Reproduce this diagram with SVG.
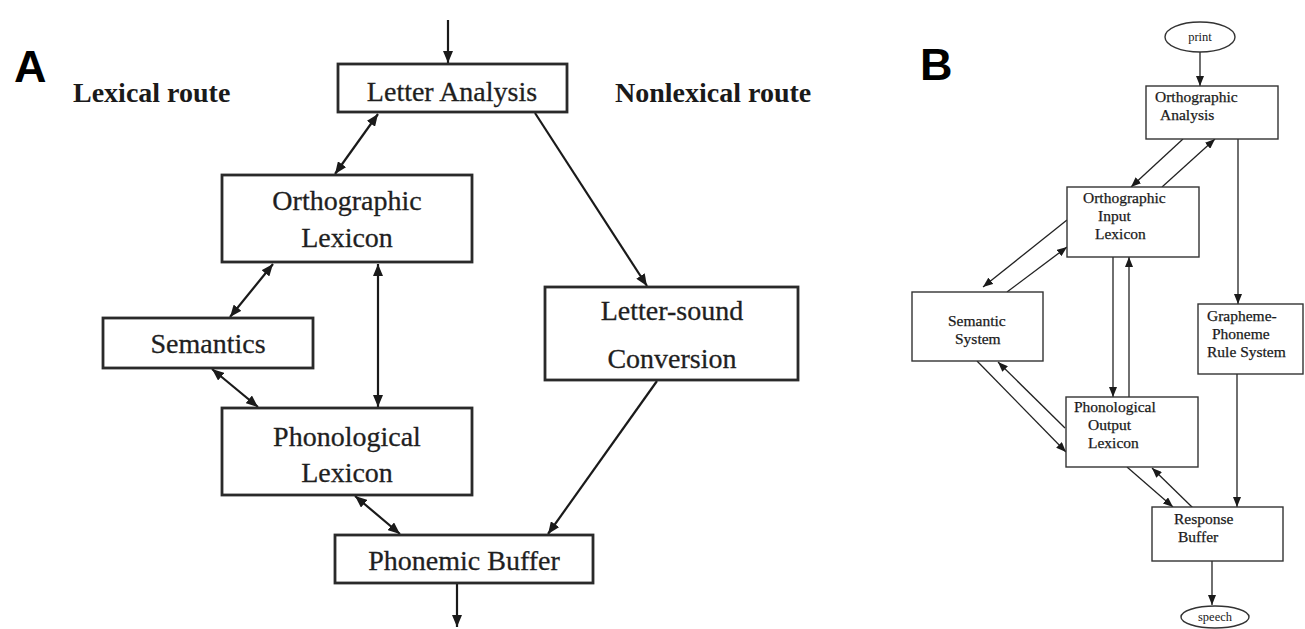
<svg xmlns="http://www.w3.org/2000/svg" width="1305" height="629" viewBox="0 0 1305 629">
  <style>
    .bg { fill: #ffffff; }
    .panel-letter { font-family: "Liberation Sans", Arial, sans-serif; font-weight: bold; font-size: 45px; fill: #000; }
    .route { font-family: "Liberation Serif", "Times New Roman", serif; font-weight: bold; font-size: 28px; fill: #1a1a1a; }
    .boxA { fill: #ffffff; stroke: #2a2a2a; stroke-width: 2.8; }
    .txtA { font-family: "Liberation Serif", "Times New Roman", serif; font-size: 28px; fill: #1f1f1f; text-anchor: middle; stroke: #1f1f1f; stroke-width: 0.3; }
    .lineA { stroke: #1a1a1a; stroke-width: 2.2; fill: none; }
    .boxB { fill: #ffffff; stroke: #333; stroke-width: 1.4; }
    .txtB { font-family: "Liberation Serif", "Times New Roman", serif; font-size: 15.5px; fill: #1a1a1a; stroke: #1a1a1a; stroke-width: 0.25; }
    .txtSmall { font-family: "Liberation Serif", "Times New Roman", serif; font-size: 12.5px; fill: #1a1a1a; text-anchor: middle; }
    .lineB { stroke: #222; stroke-width: 1.3; fill: none; }
  </style>
  <defs>
    <marker id="headA" viewBox="0 0 12 10" refX="12" refY="5" markerWidth="12" markerHeight="10" markerUnits="userSpaceOnUse" orient="auto-start-reverse">
      <path d="M0,0 L12,5 L0,10 z" fill="#1a1a1a"/>
    </marker>
    <marker id="headB" viewBox="0 0 10 8" refX="10" refY="4" markerWidth="10" markerHeight="8" markerUnits="userSpaceOnUse" orient="auto-start-reverse">
      <path d="M0,0 L10,4 L0,8 z" fill="#1a1a1a"/>
    </marker>
  </defs>

  <rect class="bg" x="0" y="0" width="1305" height="629"/>

  <!-- Panel A: dual-route model -->
  <text class="panel-letter" x="14" y="82">A</text>
  <text class="route" x="73" y="102">Lexical route</text>
  <text class="route" x="615" y="102">Nonlexical route</text>

  <g id="a-connectors">
    <path class="lineA" d="M448,20 L448,63" marker-end="url(#headA)"/>
    <path class="lineA" d="M378,114 L335,174" marker-start="url(#headA)" marker-end="url(#headA)"/>
    <path class="lineA" d="M535,113 L647,286" marker-end="url(#headA)"/>
    <path class="lineA" d="M273,264 L230,317" marker-start="url(#headA)" marker-end="url(#headA)"/>
    <path class="lineA" d="M378,264 L378,407" marker-start="url(#headA)" marker-end="url(#headA)"/>
    <path class="lineA" d="M212,369 L258,407" marker-start="url(#headA)" marker-end="url(#headA)"/>
    <path class="lineA" d="M355,496 L400,534" marker-start="url(#headA)" marker-end="url(#headA)"/>
    <path class="lineA" d="M657,381 L548,534" marker-end="url(#headA)"/>
    <path class="lineA" d="M457,584 L457,627" marker-end="url(#headA)"/>
  </g>

  <g id="a-letter-analysis">
    <rect class="boxA" x="338" y="64" width="229" height="48"/>
    <text class="txtA" x="452" y="101">Letter Analysis</text>
  </g>
  <g id="a-orthographic-lexicon">
    <rect class="boxA" x="222" y="175" width="250" height="87"/>
    <text class="txtA" x="347" y="210">Orthographic</text>
    <text class="txtA" x="347" y="247">Lexicon</text>
  </g>
  <g id="a-letter-sound">
    <rect class="boxA" x="545" y="287" width="253" height="93"/>
    <text class="txtA" x="672" y="320">Letter-sound</text>
    <text class="txtA" x="672" y="368">Conversion</text>
  </g>
  <g id="a-semantics">
    <rect class="boxA" x="103" y="318" width="210" height="50"/>
    <text class="txtA" x="208" y="353">Semantics</text>
  </g>
  <g id="a-phonological-lexicon">
    <rect class="boxA" x="222" y="408" width="250" height="87"/>
    <text class="txtA" x="347" y="446">Phonological</text>
    <text class="txtA" x="347" y="482">Lexicon</text>
  </g>
  <g id="a-phonemic-buffer">
    <rect class="boxA" x="335" y="535" width="258" height="48"/>
    <text class="txtA" x="464" y="570">Phonemic Buffer</text>
  </g>

  <!-- Panel B: reading model with print input and speech output -->
  <text class="panel-letter" x="920" y="80">B</text>

  <g id="b-connectors">
    <path class="lineB" d="M1200,52 L1200,86" marker-end="url(#headB)"/>
    <path class="lineB" d="M1183,139 L1131,187" marker-end="url(#headB)"/>
    <path class="lineB" d="M1162,187 L1215,139" marker-end="url(#headB)"/>
    <path class="lineB" d="M1238,139 L1238,304" marker-end="url(#headB)"/>
    <path class="lineB" d="M1067,220 L983,287" marker-end="url(#headB)"/>
    <path class="lineB" d="M1007,292 L1067,247" marker-end="url(#headB)"/>
    <path class="lineB" d="M1113,257 L1113,397" marker-end="url(#headB)"/>
    <path class="lineB" d="M1129,400 L1129,257" marker-end="url(#headB)"/>
    <path class="lineB" d="M977,361 L1066,452" marker-end="url(#headB)"/>
    <path class="lineB" d="M1065,428 L998,362" marker-end="url(#headB)"/>
    <path class="lineB" d="M1127,467 L1173,507" marker-end="url(#headB)"/>
    <path class="lineB" d="M1193,508 L1152,468" marker-end="url(#headB)"/>
    <path class="lineB" d="M1237,374 L1237,507" marker-end="url(#headB)"/>
    <path class="lineB" d="M1212,561 L1212,605" marker-end="url(#headB)"/>
  </g>

  <g id="b-print">
    <ellipse class="boxB" cx="1200" cy="37" rx="35" ry="15"/>
    <text class="txtSmall" x="1200" y="41">print</text>
  </g>
  <g id="b-orthographic-analysis">
    <rect class="boxB" x="1146" y="86" width="132" height="53"/>
    <text class="txtB" x="1155" y="102">Orthographic</text>
    <text class="txtB" x="1160" y="120">Analysis</text>
  </g>
  <g id="b-orthographic-input-lexicon">
    <rect class="boxB" x="1067" y="187" width="132" height="70"/>
    <text class="txtB" x="1083" y="203">Orthographic</text>
    <text class="txtB" x="1098" y="221">Input</text>
    <text class="txtB" x="1095" y="239">Lexicon</text>
  </g>
  <g id="b-semantic-system">
    <rect class="boxB" x="912" y="292" width="131" height="69"/>
    <text class="txtB" x="948" y="326">Semantic</text>
    <text class="txtB" x="955" y="344">System</text>
  </g>
  <g id="b-grapheme-phoneme">
    <rect class="boxB" x="1198" y="304" width="105" height="70"/>
    <text class="txtB" x="1207" y="321">Grapheme-</text>
    <text class="txtB" x="1212" y="339">Phoneme</text>
    <text class="txtB" x="1207" y="357">Rule System</text>
  </g>
  <g id="b-phonological-output-lexicon">
    <rect class="boxB" x="1066" y="397" width="132" height="70"/>
    <text class="txtB" x="1074" y="412">Phonological</text>
    <text class="txtB" x="1088" y="430">Output</text>
    <text class="txtB" x="1088" y="448">Lexicon</text>
  </g>
  <g id="b-response-buffer">
    <rect class="boxB" x="1152" y="507" width="131" height="54"/>
    <text class="txtB" x="1174" y="524">Response</text>
    <text class="txtB" x="1178" y="542">Buffer</text>
  </g>
  <g id="b-speech">
    <ellipse class="boxB" cx="1215" cy="617" rx="34" ry="11"/>
    <text class="txtSmall" x="1215" y="621">speech</text>
  </g>
</svg>
